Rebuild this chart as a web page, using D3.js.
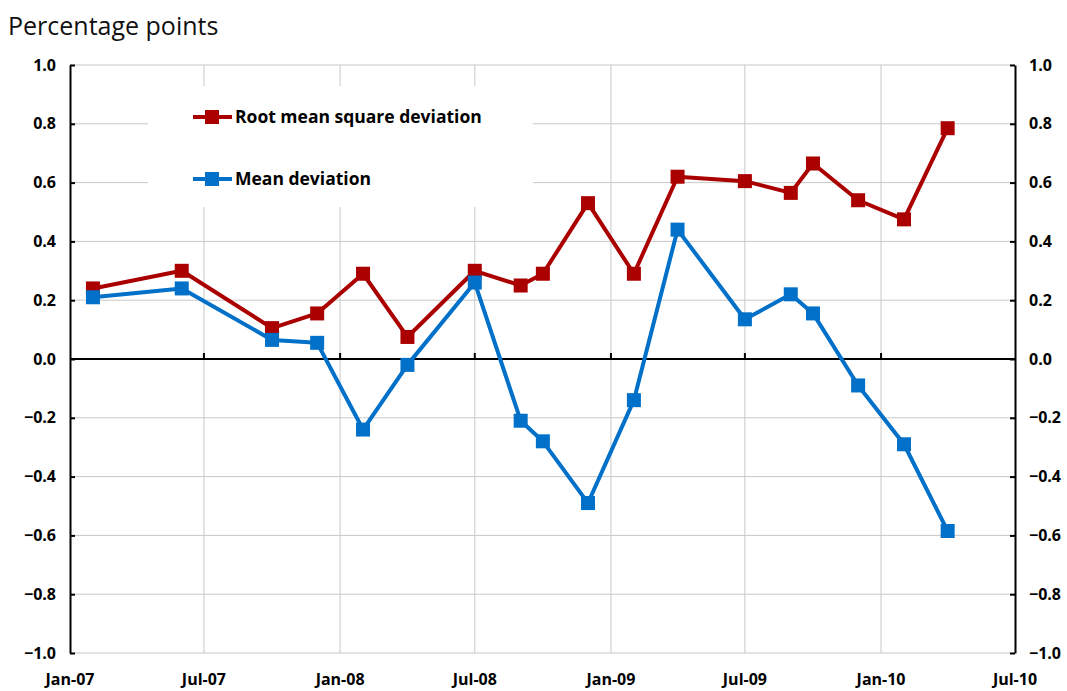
<!DOCTYPE html>
<html>
<head>
<meta charset="utf-8">
<script src="https://cdn.jsdelivr.net/npm/d3@7"></script>
<style>
  body { margin: 0; background: #fff; }
  svg { font-family: "Open Sans", sans-serif; }
  .tick-label { font-size: 16px; font-weight: 700; fill: #000; }
</style>
</head>
<body>
<script>
const width = 1067;
const height = 691;

// observation dates (year-month)
const dates = ['2007-02', '2007-06', '2007-10', '2007-12', '2008-02', '2008-04', '2008-07', '2008-09', '2008-10',
    '2008-12', '2009-02', '2009-04', '2009-07', '2009-09', '2009-10', '2009-12', '2010-02', '2010-04'];

const rmsd = [0.24, 0.30, 0.105, 0.155, 0.29, 0.075, 0.30, 0.25, 0.29,
    0.53, 0.29, 0.62, 0.605, 0.565, 0.665, 0.54, 0.475, 0.785];

const meanDev = [0.21, 0.24, 0.065, 0.055, -0.24, -0.02, 0.26, -0.21, -0.28,
    -0.49, -0.14, 0.44, 0.135, 0.22, 0.155, -0.09, -0.29, -0.585];

const xTickDates = ['2007-01', '2007-07', '2008-01', '2008-07', '2009-01', '2009-07', '2010-01', '2010-07'];
const yTicks = [-1.0, -0.8, -0.6, -0.4, -0.2, 0.0, 0.2, 0.4, 0.6, 0.8, 1.0];

const series = [
    {name: 'Root mean square deviation', values: rmsd, color: '#aa0000'},
    {name: 'Mean deviation', values: meanDev, color: '#0070c8'}
];

const parse = d3.timeParse('%Y-%m');
const fmt = d3.timeFormat('%b-%y');

const plotL = 70, plotR = 1015, plotT = 65, plotB = 653;

const x = d3.scaleTime()
    .domain([parse(xTickDates[0]), parse(xTickDates[xTickDates.length - 1])])
    .range([plotL, plotR]);

const y = d3.scaleLinear()
    .domain([-1, 1])
    .range([plotB, plotT]);

const svg = d3.select('body').append('svg')
    .attr('width', width)
    .attr('height', height);

svg.append('text')
    .attr('x', 8)
    .attr('y', 35)
    .attr('font-size', 25)
    .attr('fill', '#111')
    .text('Percentage points');

// grid
const grid = svg.append('g').attr('stroke', '#c8c8c8').attr('stroke-width', 1);
grid.selectAll('line.h')
    .data(yTicks)
    .enter().append('line')
    .attr('class', 'h')
    .attr('x1', plotL).attr('x2', plotR)
    .attr('y1', d => y(d)).attr('y2', d => y(d));
grid.selectAll('line.v')
    .data(xTickDates.slice(1, -1))
    .enter().append('line')
    .attr('class', 'v')
    .attr('x1', d => x(parse(d))).attr('x2', d => x(parse(d)))
    .attr('y1', plotT).attr('y2', plotB);

// legend background hides gridlines
svg.append('rect')
    .attr('x', 148).attr('y', 86)
    .attr('width', 385).attr('height', 121)
    .attr('fill', '#fff');

// zero line with upward ticks
svg.append('line')
    .attr('x1', plotL).attr('x2', plotR)
    .attr('y1', y(0)).attr('y2', y(0))
    .attr('stroke', '#000').attr('stroke-width', 2);
svg.append('g')
    .selectAll('line')
    .data(xTickDates.slice(1, -1))
    .enter().append('line')
    .attr('x1', d => x(parse(d))).attr('x2', d => x(parse(d)))
    .attr('y1', y(0)).attr('y2', y(0) - 6)
    .attr('stroke', '#000').attr('stroke-width', 2);

// left & right axes
const yAxisL = d3.axisLeft(y).tickValues(yTicks).tickSizeInner(-5).tickSizeOuter(0).tickPadding(14)
    .tickFormat(d3.format('.1f'));
const yAxisR = d3.axisRight(y).tickValues(yTicks).tickSizeInner(-5).tickSizeOuter(0).tickPadding(14)
    .tickFormat(d3.format('.1f'));

[[yAxisL, plotL], [yAxisR, plotR]].forEach(([ax, pos]) => {
    const g = svg.append('g')
        .attr('transform', `translate(${pos},0)`)
        .call(ax);
    g.attr('font-family', null).attr('font-size', null);
    g.select('.domain').attr('stroke', '#000').attr('stroke-width', 2);
    g.selectAll('.tick line').attr('stroke', '#000').attr('stroke-width', 2);
    g.selectAll('.tick text').attr('class', 'tick-label');
});

// x labels
svg.append('g')
    .selectAll('text')
    .data(xTickDates)
    .enter().append('text')
    .attr('class', 'tick-label')
    .attr('x', d => x(parse(d)))
    .attr('y', 685)
    .attr('text-anchor', 'middle')
    .text(d => fmt(parse(d)));

// series
const line = d3.line()
    .x((d, i) => x(parse(dates[i])))
    .y(d => y(d));

const ms = 14;
series.forEach(s => {
    svg.append('path')
        .datum(s.values)
        .attr('fill', 'none')
        .attr('stroke', s.color)
        .attr('stroke-width', 4)
        .attr('stroke-linejoin', 'round')
        .attr('d', line);
    svg.append('g')
        .selectAll('rect')
        .data(s.values)
        .enter().append('rect')
        .attr('x', (d, i) => x(parse(dates[i])) - ms / 2)
        .attr('y', d => y(d) - ms / 2)
        .attr('width', ms).attr('height', ms)
        .attr('fill', s.color);
});

// legend
const legend = svg.append('g')
    .selectAll('g')
    .data(series)
    .enter().append('g')
    .attr('transform', (d, i) => `translate(193,${117 + i * 62})`);
legend.append('line')
    .attr('x1', 0).attr('x2', 39)
    .attr('stroke', d => d.color).attr('stroke-width', 4);
legend.append('rect')
    .attr('x', 12).attr('y', -7)
    .attr('width', ms).attr('height', ms)
    .attr('fill', d => d.color);
legend.append('text')
    .attr('x', 42)
    .attr('y', 6)
    .attr('font-size', 17.5)
    .attr('font-weight', 700)
    .text(d => d.name);
</script>
</body>
</html>
